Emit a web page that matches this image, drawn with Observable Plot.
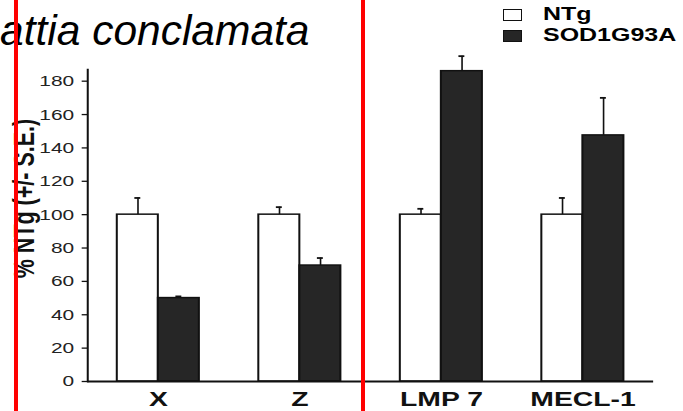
<!DOCTYPE html>
<html>
<head>
<meta charset="utf-8">
<script src="https://cdn.jsdelivr.net/npm/d3@7"></script>
<script src="https://cdn.jsdelivr.net/npm/@observablehq/plot@0.6"></script>
<style>
html, body { margin: 0; padding: 0; background: #fff; }
#wrap { position: relative; width: 683px; height: 411px; overflow: hidden; background: #fff; font-family: "Liberation Sans", Arial, sans-serif; color: #000; }
#chart { position: absolute; left: 0; top: 0; }
#chart svg { display: block; transform: scaleX(1.35); transform-origin: 0 0; max-width: none; }
.title { position: absolute; left: 0px; top: 10px; font-style: italic; font-size: 42.5px; line-height: 1; white-space: nowrap; }
.leg-item { position: absolute; left: 503px; height: 20px; }
.leg-swatch { position: absolute; left: 0; width: 19px; height: 12px; box-sizing: border-box; }
.leg-text { position: absolute; left: 40px; top: 0; font-weight: bold; font-size: 18.5px; line-height: 20px; white-space: nowrap; transform: scaleX(1.35); transform-origin: 0 0; }
.redline { position: absolute; top: 0; width: 4px; height: 411px; background: #ff0000; }
</style>
</head>
<body>
<div id="wrap">
  <div id="chart"></div>
  <div class="title" id="title"></div>
  <div id="legend"></div>
  <div class="redline" style="left:14px"></div>
  <div class="redline" style="left:361px"></div>
</div>
<script>
// ---- data ----
const categories = ["X", "Z", "LMP 7", "MECL-1"];
const series = ["NTg", "SOD1G93A"];
const seriesColors = ["#ffffff", "#262626"];
const ntgValues = [100, 100, 100, 100];
const ntgErrors = [10, 4.5, 3.5, 10];
const sodValues = [50, 69.5, 186, 147.5];
const sodErrors = [1, 4.5, 9, 22.5];
const yTicks = [0, 20, 40, 60, 80, 100, 120, 140, 160, 180];
const yLabel = "% NTg (+/- S.E.)";
const titleText = "attia conclamata";

// ---- layout ----
const W = 506, H = 411, ML = 64.5, MR = 22.2, MT = 69, MB = 30;
const xOpts = { domain: categories, paddingInner: 0.42, paddingOuter: 0.21, round: false };
const bw = Plot.scale({ x: { type: "band", ...xOpts, range: [ML, W - MR] } }).bandwidth;
const cap = 4.4;

const ntgRows = categories.map((c, i) => ({ category: c, series: series[0], value: ntgValues[i], err: ntgErrors[i] }));
const sodRows = categories.map((c, i) => ({ category: c, series: series[1], value: sodValues[i], err: sodErrors[i] }));

const chart = Plot.plot({
  width: W, height: H,
  marginLeft: ML, marginRight: MR, marginTop: MT, marginBottom: MB,
  style: { fontFamily: '"Liberation Sans", Arial, sans-serif', background: "white", color: "black", overflow: "visible" },
  x: { ...xOpts },
  y: { domain: [0, 187] },
  marks: [
    Plot.ruleX(ntgRows, { x: "category", y1: "value", y2: d => d.value + d.err, dx: -bw / 4, stroke: "#111", strokeWidth: 1.2 }),
    Plot.ruleX(sodRows, { x: "category", y1: "value", y2: d => d.value + d.err, dx: bw / 4, stroke: "#111", strokeWidth: 1.2 }),
    Plot.tickY(ntgRows, { x: "category", y: d => d.value + d.err, insetLeft: bw / 4 - cap / 2, insetRight: 3 * bw / 4 - cap / 2, stroke: "#111", strokeWidth: 1.8 }),
    Plot.tickY(sodRows, { x: "category", y: d => d.value + d.err, insetLeft: 3 * bw / 4 - cap / 2, insetRight: bw / 4 - cap / 2, stroke: "#111", strokeWidth: 1.8 }),
    Plot.barY(ntgRows, { x: "category", y: "value", fill: seriesColors[0], stroke: "#111", strokeWidth: 1.5, insetRight: bw / 2 }),
    Plot.barY(sodRows, { x: "category", y: "value", fill: seriesColors[1], stroke: "#111", strokeWidth: 1.5, insetLeft: bw / 2 }),
    Plot.ruleY([0], { stroke: "#111", strokeWidth: 1.8 }),
    Plot.frame({ anchor: "left", stroke: "#111", strokeWidth: 1.5 }),
    Plot.axisY({ ticks: yTicks, tickSize: 4, tickPadding: 6, fontSize: 15.5, fill: "#222", stroke: "#111", strokeWidth: 1.3, label: null }),
    Plot.axisX({ tickSize: 0, tickPadding: 10, fontSize: 21, fontWeight: "bold", fill: "#111", label: null }),
    Plot.text([yLabel], { text: d => d, frameAnchor: "left", textAnchor: "middle", rotate: -90, lineAnchor: "bottom", dx: -39.5, dy: -27, fontSize: 21.5, fontWeight: "bold", fill: "#111" })
  ]
});
document.getElementById("chart").appendChild(chart);

// ---- title ----
document.getElementById("title").textContent = titleText;

// ---- legend ----
const legend = document.getElementById("legend");
series.forEach((s, i) => {
  const item = document.createElement("div");
  item.className = "leg-item";
  item.style.top = (4 + 21 * i) + "px";
  const sw = document.createElement("div");
  sw.className = "leg-swatch";
  sw.style.top = "5px";
  sw.style.background = seriesColors[i];
  sw.style.border = "1.5px solid #111";
  const tx = document.createElement("div");
  tx.className = "leg-text";
  tx.textContent = s;
  item.appendChild(sw);
  item.appendChild(tx);
  legend.appendChild(item);
});
</script>
</body>
</html>
